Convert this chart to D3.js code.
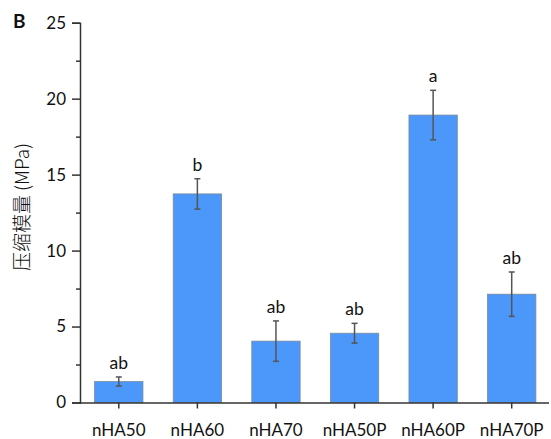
<!DOCTYPE html>
<html>
<head>
<meta charset="utf-8">
<script src="https://cdn.jsdelivr.net/npm/d3@7"></script>
<style>
  body { margin: 0; background: #fff; }
  svg text { font-family: Lato, "Open Sans", sans-serif; fill: #111; }
</style>
</head>
<body>
<svg id="chart" width="551" height="439"></svg>
<script>
// chart data
const groups = ['nHA50', 'nHA60', 'nHA70', 'nHA50P', 'nHA60P', 'nHA70P'];
const modulus = [1.38, 13.73, 4.04, 4.56, 18.92, 7.13];
const errors = [0.3, 1.0, 1.33, 0.65, 1.63, 1.46];
const letters = ['ab', 'b', 'ab', 'ab', 'a', 'ab'];
const yTicks = [0, 5, 10, 15, 20, 25];

let svg = d3.select('#chart');

// scales
let x = d3.scaleBand().domain(groups).range([79.5, 551]).paddingInner(0.385).paddingOuter(0.1925);
let y = d3.scaleLinear().domain([0, 25]).range([402.5, 22.7]);

// bars
svg.selectAll('rect.bar').data(groups).enter().append('rect')
    .attr('class', 'bar')
    .attr('x', d => x(d))
    .attr('width', x.bandwidth())
    .attr('y', (d, i) => y(modulus[i]))
    .attr('height', (d, i) => y(0) - y(modulus[i]))
    .attr('fill', '#4b97fa')
    .attr('stroke', '#7a8a9a')
    .attr('stroke-width', 0.8);

// error bars
let err = svg.append('g').attr('stroke', '#555').attr('stroke-width', 1.5);
groups.forEach((g, i) => {
    let cx = x(g) + x.bandwidth() / 2;
    let top = y(modulus[i] + errors[i]);
    let bot = y(modulus[i] - errors[i]);
    err.append('line').attr('x1', cx).attr('x2', cx).attr('y1', top).attr('y2', bot);
    err.append('line').attr('x1', cx - 3).attr('x2', cx + 3).attr('y1', top).attr('y2', top);
    err.append('line').attr('x1', cx - 3).attr('x2', cx + 3).attr('y1', bot).attr('y2', bot);
});

// significance letters
svg.selectAll('text.sig').data(groups).enter().append('text')
    .attr('class', 'sig')
    .attr('x', d => x(d) + x.bandwidth() / 2)
    .attr('y', (d, i) => y(modulus[i] + errors[i]) - 8)
    .attr('text-anchor', 'middle')
    .style('font-size', '17.5px')
    .text((d, i) => letters[i]);

// y axis with minor ticks
let yAxis = svg.append('g').attr('transform', 'translate(80,0)')
    .call(d3.axisLeft(y).tickValues(yTicks).tickSize(8).tickPadding(6));
svg.append('g').attr('transform', 'translate(80,0)')
    .call(d3.axisLeft(y).tickValues(d3.range(2.5, 25, 5)).tickSize(4).tickFormat(''))
    .call(g => g.select('.domain').remove());

// x axis
let xAxis = svg.append('g').attr('transform', 'translate(0,402.5)')
    .call(d3.axisBottom(x).tickSize(6).tickPadding(15).tickSizeOuter(0));
xAxis.select('.domain').attr('d', 'M79.5,0.5H549');

svg.selectAll('.domain, .tick line').attr('stroke', '#333').attr('stroke-width', 1.5);
svg.selectAll('.tick text').style('font-size', '17px').attr('fill', '#111');

// y label
svg.append('text')
    .attr('transform', 'translate(29,207) rotate(-90)')
    .attr('text-anchor', 'middle')
    .style('font-family', '"Noto Sans CJK SC", Lato, sans-serif')
    .style('font-size', '19px')
    .style('font-weight', '300')
    .text('压缩模量 (MPa)');

// panel letter
svg.append('text')
    .attr('x', 13).attr('y', 28)
    .style('font-size', '19px')
    .style('font-weight', 'bold')
    .text('B');
</script>
</body>
</html>
